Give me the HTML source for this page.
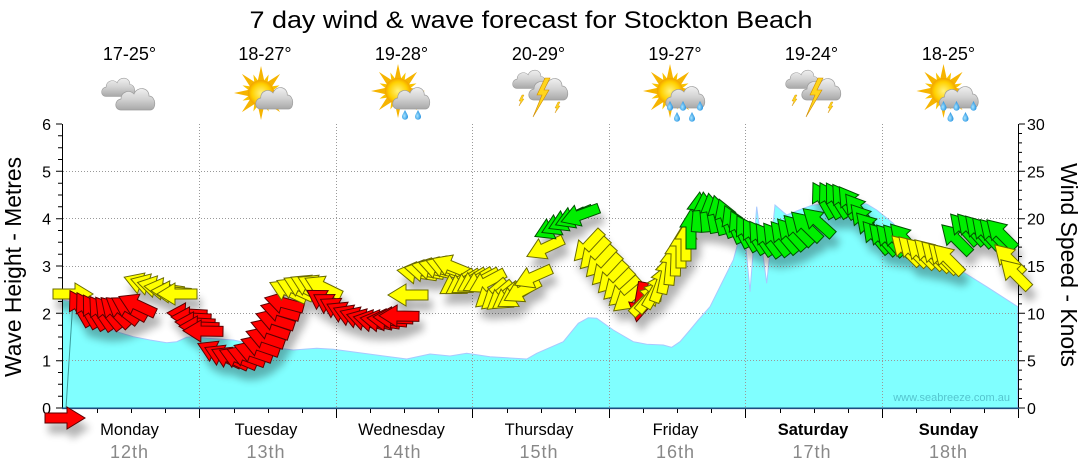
<!DOCTYPE html>
<html><head><meta charset="utf-8"><style>html,body{margin:0;padding:0;background:#fff;}svg{display:block;}</style></head>
<body>
<svg width="1080" height="475" viewBox="0 0 1080 475" xmlns="http://www.w3.org/2000/svg" xmlns:xlink="http://www.w3.org/1999/xlink" font-family="'Liberation Sans', sans-serif">
<defs>
<linearGradient id="cg" gradientUnits="userSpaceOnUse" x1="0" y1="0" x2="0" y2="24"><stop offset="0" stop-color="#f7f7f7"/><stop offset="0.55" stop-color="#d2d2d2"/><stop offset="1" stop-color="#a8a8a8"/></linearGradient>
<path id="cloud" d="M6,24 C-1,24 -1,14 6,13 C6,6 14,3 19,8 C22,0 34,1 34,10 C41,10 42,24 35,24 Z" fill="url(#cg)" stroke="#9c9c9c" stroke-width="0.7"/>
<radialGradient id="sg"><stop offset="0" stop-color="#fff27a"/><stop offset="0.7" stop-color="#ffd000"/><stop offset="1" stop-color="#f2a200"/></radialGradient>
<radialGradient id="dg" cx="0.4" cy="0.6" r="0.6"><stop offset="0" stop-color="#a8e4ff"/><stop offset="1" stop-color="#1f8fe0"/></radialGradient>
<polygon id="rl" points="-3.5,-11 3.5,-11 0,-27" fill="#f6b400"/>
<polygon id="rs" points="-2.5,-11 2.5,-11 0,-20" fill="#f9c200"/>
<g id="sun">
<use href="#rl"/><use href="#rl" transform="rotate(45)"/><use href="#rl" transform="rotate(90)"/><use href="#rl" transform="rotate(135)"/><use href="#rl" transform="rotate(180)"/><use href="#rl" transform="rotate(225)"/><use href="#rl" transform="rotate(270)"/><use href="#rl" transform="rotate(315)"/>
<use href="#rs" transform="rotate(22.5)"/><use href="#rs" transform="rotate(67.5)"/><use href="#rs" transform="rotate(112.5)"/><use href="#rs" transform="rotate(157.5)"/><use href="#rs" transform="rotate(202.5)"/><use href="#rs" transform="rotate(247.5)"/><use href="#rs" transform="rotate(292.5)"/><use href="#rs" transform="rotate(337.5)"/>
<circle r="13" fill="url(#sg)"/>
</g>
<path id="drop" d="M0,-5 C1.5,-2 3,0 3,1.8 A3,3 0 0 1 -3,1.8 C-3,0 -1.5,-2 0,-5Z" fill="url(#dg)"/>
<polygon id="bolt" points="10,0 2,17 7,17 -2,39 14,12 9,12 15,0" fill="#ffd51c" stroke="#d08c00" stroke-width="0.6"/>
<polygon id="sbolt" points="3,0 0,6 2,6 0,11 5,4 3,4 5,0" fill="#ffd51c" stroke="#d08c00" stroke-width="0.4"/>
<path id="a" d="M-20,-5 L2,-5 L2,-11 L20,0 L2,11 L2,5 L-20,5 Z"/>
<filter id="sh" filterUnits="userSpaceOnUse" x="0" y="0" width="1080" height="475">
<feGaussianBlur in="SourceAlpha" stdDeviation="4"/>
<feOffset dx="4" dy="10" result="o"/>
<feComponentTransfer><feFuncA type="linear" slope="0.3"/></feComponentTransfer>
<feMerge><feMergeNode/><feMergeNode in="SourceGraphic"/></feMerge>
</filter>
</defs>

<!-- Title -->
<text x="531" y="28" font-size="24" text-anchor="middle" textLength="563" lengthAdjust="spacingAndGlyphs" fill="#000">7 day wind &amp; wave forecast for Stockton Beach</text>

<!-- Temps -->
<g font-size="18" text-anchor="middle" fill="#000">
<text x="129.5" y="60">17-25°</text>
<text x="265" y="60">18-27°</text>
<text x="401.5" y="60">19-28°</text>
<text x="538.5" y="60">20-29°</text>
<text x="675" y="60">19-27°</text>
<text x="811.5" y="60">19-24°</text>
<text x="948.5" y="60">18-25°</text>
</g>

<!-- Icons -->
<g>
<use href="#cloud" transform="translate(101,76) scale(0.85)"/>
<use href="#cloud" transform="translate(115,86)"/>

<use href="#sun" transform="translate(261,93)"/>
<use href="#cloud" transform="translate(255,85) scale(0.95,1)"/>

<use href="#sun" transform="translate(398,91)"/>
<use href="#cloud" transform="translate(392,85) scale(0.95,1)"/>
<use href="#drop" transform="translate(405,115)"/><use href="#drop" transform="translate(418,115)"/>

<use href="#cloud" transform="translate(512,68) scale(0.85)"/>
<use href="#cloud" transform="translate(528,76)"/>
<use href="#sbolt" transform="translate(519,95)"/><use href="#sbolt" transform="translate(555,102)"/>
<use href="#bolt" transform="translate(535,78)"/>

<use href="#sun" transform="translate(670,91)"/>
<use href="#cloud" transform="translate(665,84)"/>
<use href="#drop" transform="translate(670,106)"/><use href="#drop" transform="translate(683,106)"/><use href="#drop" transform="translate(700,106)"/><use href="#drop" transform="translate(677,117)"/><use href="#drop" transform="translate(692,117)"/>

<use href="#cloud" transform="translate(785,68) scale(0.85)"/>
<use href="#cloud" transform="translate(801,76)"/>
<use href="#sbolt" transform="translate(792,95)"/><use href="#sbolt" transform="translate(828,102)"/>
<use href="#bolt" transform="translate(808,78)"/>

<use href="#sun" transform="translate(943.5,91)"/>
<use href="#cloud" transform="translate(938.5,84)"/>
<use href="#drop" transform="translate(943.5,106)"/><use href="#drop" transform="translate(956.5,106)"/><use href="#drop" transform="translate(973.5,106)"/><use href="#drop" transform="translate(950.5,117)"/><use href="#drop" transform="translate(965.5,117)"/>
</g>

<!-- Wave area -->
<polygon fill="#80ffff" stroke="#a8c8ff" stroke-width="1" points="62.5,300 71.7,301.7 83.3,313.3 100,326.7 116.7,331.7 133.3,336.7 150,340 166.7,342.7 176.7,341.7 186.7,337.3 193.3,336.7 206.7,338.3 233.3,340 266.7,346.7 293.3,350 316.7,348.3 333.3,349.3 363.3,353.3 406.7,359 430,354 450,356 466.7,353.3 490,356.7 526.7,359 536.7,353.3 563.3,341.7 578.3,323.3 588.3,317.7 596.7,318.3 613.3,330 633.3,341.7 646.7,344.3 663.3,345 671.7,347.3 680,341.7 690,330 698.3,320 710,306.7 723.3,280 733.3,260 738.3,241.7 742.5,233 746,248 750,291.7 756.7,206.7 766.7,283.3 775,205 786.7,215 803.3,208.3 813,205 840,203 866.7,204 876.7,210 893.3,223.3 906.7,240 936.7,258.3 960,270 986.7,286.7 1017.7,306.7 1017.7,408 62.5,408"/>
<line x1="66" y1="408" x2="73" y2="300" stroke="#3b9b9b" stroke-width="1"/>

<!-- Grid -->
<g stroke="#999" stroke-width="1" stroke-dasharray="1,2" fill="none">
<path d="M63,360.5H1018 M63,313.5H1018 M63,266.5H1018 M63,218.5H1018 M63,171.5H1018"/>
<path d="M199.5,124V408 M336.5,124V408 M472.5,124V408 M609.5,124V408 M745.5,124V408 M882.5,124V408"/>
</g>

<!-- Watermark -->
<text x="1010" y="401" font-size="11" text-anchor="end" fill="#55c5cf">www.seabreeze.com.au</text>

<!-- Axes -->
<g stroke="#000" stroke-width="1" fill="none">
<path d="M62.5,124V408.5 M1018.5,124V408.5"/>
<path d="M56,124H62 M56,171.3H62 M56,218.7H62 M56,266H62 M56,313.3H62 M56,360.7H62 M56,408H62"/>
<path d="M58,396.2H62 M58,384.3H62 M58,372.5H62 M58,348.8H62 M58,337H62 M58,325.2H62 M58,301.5H62 M58,289.7H62 M58,277.8H62 M58,254.2H62 M58,242.3H62 M58,230.5H62 M58,206.8H62 M58,195H62 M58,183.2H62 M58,159.5H62 M58,147.7H62 M58,135.8H62"/>
<path d="M1019,124H1025 M1019,171.3H1025 M1019,218.7H1025 M1019,266H1025 M1019,313.3H1025 M1019,360.7H1025 M1019,408H1025"/>
<path d="M1019,398.5H1022 M1019,389.1H1022 M1019,379.6H1022 M1019,370.1H1022 M1019,351.2H1022 M1019,341.7H1022 M1019,332.3H1022 M1019,322.8H1022 M1019,303.9H1022 M1019,294.4H1022 M1019,284.9H1022 M1019,275.5H1022 M1019,256.5H1022 M1019,247.1H1022 M1019,237.6H1022 M1019,228.1H1022 M1019,209.2H1022 M1019,199.7H1022 M1019,190.3H1022 M1019,180.8H1022 M1019,161.9H1022 M1019,152.4H1022 M1019,142.9H1022 M1019,133.5H1022"/>
<path d="M199.5,408V418 M336.5,408V418 M472.5,408V418 M609.5,408V418 M745.5,408V418 M882.5,408V418 M1018.5,408V418"/>
<path d="M97.5,408V413 M131.5,408V413 M165.5,408V413 M234.5,408V413 M268.5,408V413 M302.5,408V413 M370.5,408V413 M404.5,408V413 M438.5,408V413 M507.5,408V413 M541.5,408V413 M575.5,408V413 M643.5,408V413 M677.5,408V413 M711.5,408V413 M780.5,408V413 M814.5,408V413 M848.5,408V413 M916.5,408V413 M950.5,408V413 M984.5,408V413"/>
</g>
<line x1="62" y1="408.3" x2="1019" y2="408.3" stroke="#1c4e80" stroke-width="1.6"/>

<!-- Tick labels -->
<g font-size="16" fill="#000" text-anchor="end">
<text x="51" y="130">6</text><text x="51" y="177.3">5</text><text x="51" y="224.7">4</text><text x="51" y="272">3</text><text x="51" y="319.3">2</text><text x="51" y="366.7">1</text><text x="51" y="414">0</text>
</g>
<g font-size="16" fill="#000" text-anchor="start">
<text x="1027" y="130">30</text><text x="1027" y="177.3">25</text><text x="1027" y="224.7">20</text><text x="1027" y="272">15</text><text x="1027" y="319.3">10</text><text x="1027" y="366.7">5</text><text x="1027" y="414">0</text>
</g>

<!-- Axis titles -->
<text transform="translate(21,267) rotate(-90)" font-size="23" text-anchor="middle" textLength="220" lengthAdjust="spacingAndGlyphs" fill="#000">Wave Height - Metres</text>
<text transform="translate(1061,265) rotate(90)" font-size="23" text-anchor="middle" textLength="204" lengthAdjust="spacingAndGlyphs" fill="#000">Wind Speed - Knots</text>

<!-- Day labels -->
<g font-size="16.5" text-anchor="middle" fill="#000">
<text x="129.5" y="435">Monday</text>
<text x="266" y="435">Tuesday</text>
<text x="401.5" y="435">Wednesday</text>
<text x="539" y="435">Thursday</text>
<text x="675.5" y="435">Friday</text>
<text x="813" y="435" font-weight="bold">Saturday</text>
<text x="948.5" y="435" font-weight="bold">Sunday</text>
</g>
<g font-size="18" text-anchor="middle" fill="#888" letter-spacing="1">
<text x="129.5" y="458">12th</text>
<text x="266" y="458">13th</text>
<text x="402" y="458">14th</text>
<text x="539" y="458">15th</text>
<text x="675.5" y="458">16th</text>
<text x="812" y="458">17th</text>
<text x="948.5" y="458">18th</text>
</g>

<!-- Wind arrows -->
<g filter="url(#sh)" stroke-width="1" stroke-linejoin="miter">
<g fill="#ffff00" stroke="#6b6b00">
<use href="#a" transform="translate(73,294) rotate(0)"/>
</g>
<g fill="#ff0000" stroke="#5a0000">
<use href="#a" transform="translate(80,308) rotate(240)"/>
<use href="#a" transform="translate(87,310) rotate(240)"/>
<use href="#a" transform="translate(94,312) rotate(238)"/>
<use href="#a" transform="translate(101,313) rotate(236)"/>
<use href="#a" transform="translate(108,313) rotate(232)"/>
<use href="#a" transform="translate(115,312) rotate(226)"/>
<use href="#a" transform="translate(122,310) rotate(218)"/>
<use href="#a" transform="translate(129,308) rotate(210)"/>
<use href="#a" transform="translate(137,305) rotate(205)"/>
</g>
<g fill="#ffff00" stroke="#6b6b00">
<use href="#a" transform="translate(143,284) rotate(200)"/>
<use href="#a" transform="translate(150,285) rotate(197)"/>
<use href="#a" transform="translate(157,287) rotate(193)"/>
<use href="#a" transform="translate(164,289) rotate(188)"/>
<use href="#a" transform="translate(171,292) rotate(184)"/>
<use href="#a" transform="translate(177,294) rotate(180)"/>
</g>
<g fill="#ff0000" stroke="#5a0000">
<use href="#a" transform="translate(187,314) rotate(183)"/>
<use href="#a" transform="translate(191,318) rotate(183)"/>
<use href="#a" transform="translate(195,323) rotate(183)"/>
<use href="#a" transform="translate(199,327) rotate(182)"/>
<use href="#a" transform="translate(203,331) rotate(181)"/>
<use href="#a" transform="translate(216,352) rotate(205)"/>
<use href="#a" transform="translate(223,356) rotate(205)"/>
<use href="#a" transform="translate(230,358) rotate(205)"/>
<use href="#a" transform="translate(238,358) rotate(203)"/>
<use href="#a" transform="translate(246,356) rotate(200)"/>
<use href="#a" transform="translate(253,352) rotate(199)"/>
<use href="#a" transform="translate(260,346) rotate(199)"/>
<use href="#a" transform="translate(265,338) rotate(199)"/>
<use href="#a" transform="translate(270,329) rotate(199)"/>
<use href="#a" transform="translate(275,320) rotate(198)"/>
<use href="#a" transform="translate(280,311) rotate(196)"/>
<use href="#a" transform="translate(284,303) rotate(195)"/>
</g>
<g fill="#ffff00" stroke="#6b6b00">
<use href="#a" transform="translate(288,291) rotate(205)"/>
<use href="#a" transform="translate(295,289) rotate(205)"/>
<use href="#a" transform="translate(302,287) rotate(206)"/>
<use href="#a" transform="translate(309,286) rotate(206)"/>
<use href="#a" transform="translate(316,286) rotate(206)"/>
<use href="#a" transform="translate(323,287) rotate(206)"/>
</g>
<g fill="#ff0000" stroke="#5a0000">
<use href="#a" transform="translate(324,301) rotate(212)"/>
<use href="#a" transform="translate(331,305) rotate(211)"/>
<use href="#a" transform="translate(338,309) rotate(209)"/>
<use href="#a" transform="translate(345,313) rotate(206)"/>
<use href="#a" transform="translate(352,316) rotate(203)"/>
<use href="#a" transform="translate(359,318) rotate(200)"/>
<use href="#a" transform="translate(366,320) rotate(196)"/>
<use href="#a" transform="translate(373,321) rotate(192)"/>
<use href="#a" transform="translate(380,321) rotate(189)"/>
<use href="#a" transform="translate(387,320) rotate(186)"/>
<use href="#a" transform="translate(393,318) rotate(183)"/>
<use href="#a" transform="translate(399,316) rotate(181)"/>
</g>
<g fill="#ffff00" stroke="#6b6b00">
<use href="#a" transform="translate(408,295) rotate(180)"/>
<use href="#a" transform="translate(417,273) rotate(188)"/>
<use href="#a" transform="translate(424,271) rotate(190)"/>
<use href="#a" transform="translate(431,269) rotate(193)"/>
<use href="#a" transform="translate(438,268) rotate(196)"/>
<use href="#a" transform="translate(445,267) rotate(199)"/>
<use href="#a" transform="translate(451,266) rotate(202)"/>
<use href="#a" transform="translate(457,283) rotate(148)"/>
<use href="#a" transform="translate(463,283) rotate(148)"/>
<use href="#a" transform="translate(469,282) rotate(148)"/>
<use href="#a" transform="translate(475,281) rotate(150)"/>
<use href="#a" transform="translate(481,281) rotate(152)"/>
<use href="#a" transform="translate(487,282) rotate(152)"/>
<use href="#a" transform="translate(491,294) rotate(140)"/>
<use href="#a" transform="translate(497,296) rotate(140)"/>
<use href="#a" transform="translate(503,297) rotate(142)"/>
<use href="#a" transform="translate(509,297) rotate(145)"/>
<use href="#a" transform="translate(515,296) rotate(148)"/>
<use href="#a" transform="translate(522,291) rotate(152)"/>
<use href="#a" transform="translate(533,277) rotate(156)"/>
<use href="#a" transform="translate(545,248) rotate(155)"/>
</g>
<g fill="#00ee00" stroke="#005000">
<use href="#a" transform="translate(553,228) rotate(155)"/>
<use href="#a" transform="translate(560,224) rotate(155)"/>
<use href="#a" transform="translate(567,220) rotate(155)"/>
<use href="#a" transform="translate(574,217) rotate(157)"/>
<use href="#a" transform="translate(580,215) rotate(160)"/>
</g>
<g fill="#ffff00" stroke="#6b6b00">
<use href="#a" transform="translate(588,246) rotate(133)"/>
<use href="#a" transform="translate(594,254) rotate(133)"/>
<use href="#a" transform="translate(600,262) rotate(133)"/>
<use href="#a" transform="translate(606,270) rotate(133)"/>
<use href="#a" transform="translate(612,278) rotate(133)"/>
<use href="#a" transform="translate(618,285) rotate(135)"/>
<use href="#a" transform="translate(624,292) rotate(138)"/>
<use href="#a" transform="translate(629,298) rotate(140)"/>
</g>
<g fill="#ff0000" stroke="#5a0000">
<use href="#a" transform="translate(640,302) rotate(100)"/>
</g>
<g fill="#ffff00" stroke="#6b6b00">
<use href="#a" transform="translate(646,300) rotate(315)"/>
<use href="#a" transform="translate(651,296) rotate(310)"/>
<use href="#a" transform="translate(656,290) rotate(300)"/>
<use href="#a" transform="translate(661,283) rotate(290)"/>
<use href="#a" transform="translate(666,274) rotate(282)"/>
<use href="#a" transform="translate(671,265) rotate(276)"/>
<use href="#a" transform="translate(676,256) rotate(272)"/>
<use href="#a" transform="translate(681,248) rotate(270)"/>
<use href="#a" transform="translate(686,241) rotate(270)"/>
</g>
<g fill="#00ee00" stroke="#005000">
<use href="#a" transform="translate(691,229) rotate(270)"/>
<use href="#a" transform="translate(698,212) rotate(275)"/>
<use href="#a" transform="translate(705,212) rotate(265)"/>
<use href="#a" transform="translate(712,213) rotate(260)"/>
<use href="#a" transform="translate(719,215) rotate(256)"/>
<use href="#a" transform="translate(726,218) rotate(250)"/>
<use href="#a" transform="translate(733,224) rotate(246)"/>
<use href="#a" transform="translate(740,229) rotate(243)"/>
<use href="#a" transform="translate(747,233) rotate(240)"/>
<use href="#a" transform="translate(754,236) rotate(238)"/>
<use href="#a" transform="translate(761,238) rotate(236)"/>
<use href="#a" transform="translate(768,240) rotate(234)"/>
<use href="#a" transform="translate(776,239) rotate(232)"/>
<use href="#a" transform="translate(784,237) rotate(230)"/>
<use href="#a" transform="translate(791,234) rotate(228)"/>
<use href="#a" transform="translate(798,230) rotate(226)"/>
<use href="#a" transform="translate(806,226) rotate(224)"/>
<use href="#a" transform="translate(818,222) rotate(222)"/>
<use href="#a" transform="translate(823,200) rotate(240)"/>
<use href="#a" transform="translate(830,200) rotate(240)"/>
<use href="#a" transform="translate(837,200) rotate(238)"/>
<use href="#a" transform="translate(844,201) rotate(236)"/>
<use href="#a" transform="translate(851,203) rotate(234)"/>
<use href="#a" transform="translate(858,210) rotate(232)"/>
<use href="#a" transform="translate(864,220) rotate(230)"/>
<use href="#a" transform="translate(870,228) rotate(228)"/>
<use href="#a" transform="translate(876,237) rotate(230)"/>
<use href="#a" transform="translate(883,239) rotate(228)"/>
<use href="#a" transform="translate(890,240) rotate(228)"/>
<use href="#a" transform="translate(897,240) rotate(228)"/>
<use href="#a" transform="translate(904,239) rotate(228)"/>
</g>
<g fill="#ffff00" stroke="#6b6b00">
<use href="#a" transform="translate(906,250) rotate(225)"/>
<use href="#a" transform="translate(913,251) rotate(225)"/>
<use href="#a" transform="translate(921,253) rotate(225)"/>
<use href="#a" transform="translate(929,254) rotate(225)"/>
<use href="#a" transform="translate(936,256) rotate(225)"/>
<use href="#a" transform="translate(943,258) rotate(225)"/>
<use href="#a" transform="translate(948,259) rotate(225)"/>
</g>
<g fill="#00ee00" stroke="#005000">
<use href="#a" transform="translate(956,239) rotate(225)"/>
<use href="#a" transform="translate(964,229) rotate(228)"/>
<use href="#a" transform="translate(971,229) rotate(228)"/>
<use href="#a" transform="translate(979,231) rotate(228)"/>
<use href="#a" transform="translate(986,233) rotate(228)"/>
<use href="#a" transform="translate(994,234) rotate(226)"/>
<use href="#a" transform="translate(1001,234) rotate(225)"/>
</g>
<g fill="#ffff00" stroke="#6b6b00">
<use href="#a" transform="translate(1009,259) rotate(225)"/>
<use href="#a" transform="translate(1015,274) rotate(225)"/>
</g>
<g fill="#ff0000" stroke="#5a0000">
<use href="#a" transform="translate(65,418) rotate(0)"/>
</g>
</g>
</svg>
</body></html>
